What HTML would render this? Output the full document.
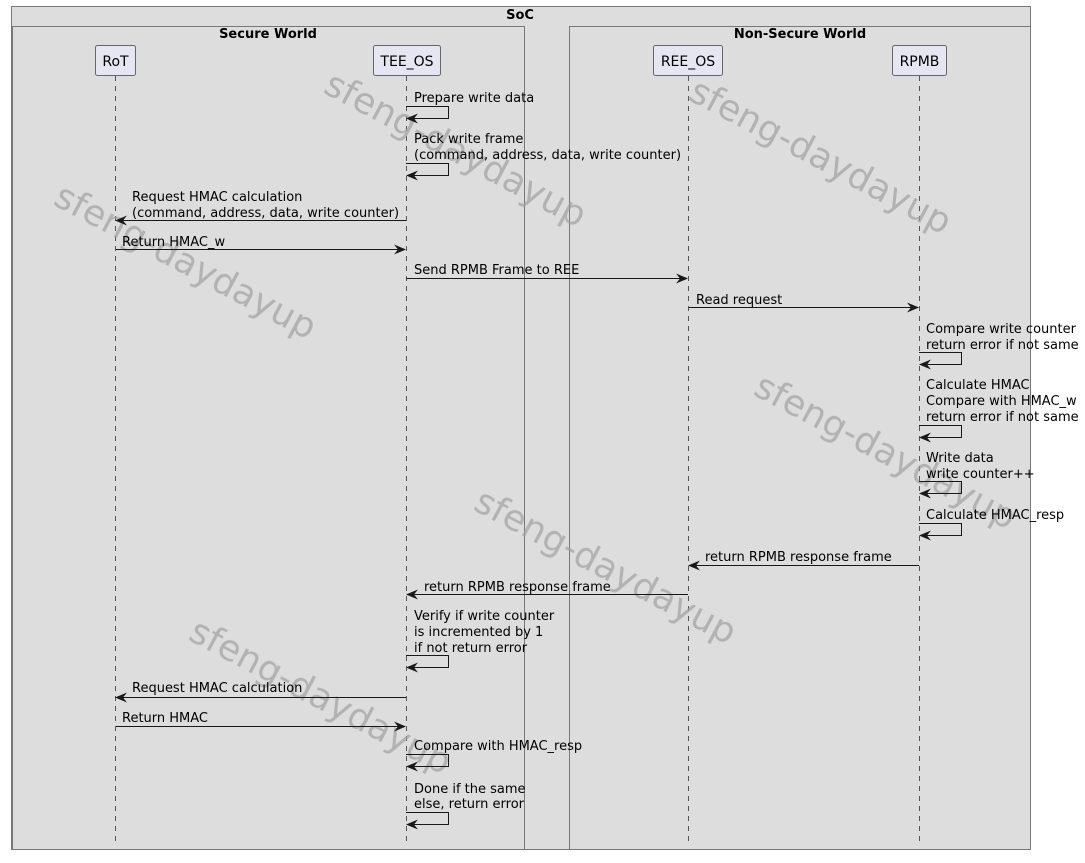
<!DOCTYPE html>
<html><head><meta charset="utf-8"><style>
html,body{margin:0;padding:0;background:#fff;width:1085px;height:863px;overflow:hidden}
svg text{font-family:"DejaVu Sans","Liberation Sans",sans-serif}
.m{font-size:13px;fill:#000}
.w{font-size:36px;fill:#a0a0a0;opacity:.7}
</style></head><body>
<svg width="1085" height="863" xmlns="http://www.w3.org/2000/svg">
<defs>
<marker id="a" viewBox="0 0 12 10" refX="11" refY="5" markerWidth="12" markerHeight="10" markerUnits="userSpaceOnUse" orient="auto">
<path d="M0,0 L12,5 L0,10 L4,5 Z" fill="#181818"/></marker>
</defs>
<rect x="11.5" y="6.5" width="1019" height="843" fill="#dddddd" stroke="#777"/>
<text x="520" y="19" text-anchor="middle" font-size="13" font-weight="bold">SoC</text>
<rect x="12.5" y="26.5" width="512" height="823" fill="#dddddd" stroke="#777"/>
<text x="268" y="38" text-anchor="middle" font-size="13" font-weight="bold">Secure World</text>
<rect x="569.5" y="26.5" width="461" height="823" fill="#dddddd" stroke="#777"/>
<text x="800" y="38" text-anchor="middle" font-size="13" font-weight="bold">Non-Secure World</text>

<g stroke="#555" stroke-dasharray="5,5">
<line x1="115.5" y1="76" x2="115.5" y2="842"/>
<line x1="406.5" y1="76" x2="406.5" y2="842"/>
<line x1="688.5" y1="76" x2="688.5" y2="842"/>
<line x1="919.5" y1="76" x2="919.5" y2="842"/>
</g>
<g fill="#e6e6f2" stroke="#666">
<rect x="95.5" y="45.5" width="40" height="30" rx="2"/>
<rect x="373.5" y="45.5" width="67" height="30" rx="2"/>
<rect x="653.5" y="45.5" width="69" height="30" rx="2"/>
<rect x="892.5" y="45.5" width="54" height="30" rx="2"/>
</g>
<g font-size="14" text-anchor="middle">
<text x="115.5" y="66">RoT</text>
<text x="407" y="66">TEE_OS</text>
<text x="688" y="66">REE_OS</text>
<text x="919.5" y="66">RPMB</text>
</g>

<g class="w" text-anchor="middle">
<text transform="translate(450,160) rotate(28)">sfeng-daydayup</text>
<text transform="translate(180,272) rotate(28)">sfeng-daydayup</text>
<text transform="translate(815,167) rotate(28)">sfeng-daydayup</text>
<text transform="translate(880,462) rotate(28)">sfeng-daydayup</text>
<text transform="translate(600,577) rotate(28)">sfeng-daydayup</text>
<text transform="translate(315,707) rotate(28)">sfeng-daydayup</text>
</g>

<g stroke="#181818" fill="none" marker-end="url(#a)">
<path d="M406,106.5 H448.5 V118.5 H407"/>
<path d="M406,163.5 H448.5 V175.5 H407"/>
<line x1="406" y1="220.5" x2="116" y2="220.5"/>
<line x1="116" y1="249.5" x2="405" y2="249.5"/>
<line x1="406" y1="278.5" x2="687" y2="278.5"/>
<line x1="689" y1="307.5" x2="918" y2="307.5"/>
<path d="M919,352.5 H961.5 V364.5 H920"/>
<path d="M919,425.5 H961.5 V437.5 H920"/>
<path d="M919,481.5 H961.5 V493.5 H920"/>
<path d="M919,523.5 H961.5 V535.5 H920"/>
<line x1="919" y1="565.5" x2="689" y2="565.5"/>
<line x1="688" y1="594.5" x2="407" y2="594.5"/>
<path d="M406,655.5 H448.5 V667.5 H407"/>
<line x1="406" y1="697.5" x2="116" y2="697.5"/>
<line x1="116" y1="726.5" x2="405" y2="726.5"/>
<path d="M406,754.5 H448.5 V766.5 H407"/>
<path d="M406,812.5 H448.5 V824.5 H407"/>
</g>

<g class="m">
<text x="414" y="102">Prepare write data</text>
<text x="414" y="143">Pack write frame</text>
<text x="414" y="159">(command, address, data, write counter)</text>
<text x="132" y="201">Request HMAC calculation</text>
<text x="132" y="217">(command, address, data, write counter)</text>
<text x="122" y="246">Return HMAC_w</text>
<text x="414" y="274">Send RPMB Frame to REE</text>
<text x="696" y="304">Read request</text>
<text x="926" y="333">Compare write counter</text>
<text x="926" y="349">return error if not same</text>
<text x="926" y="389">Calculate HMAC</text>
<text x="926" y="405">Compare with HMAC_w</text>
<text x="926" y="421">return error if not same</text>
<text x="926" y="462">Write data</text>
<text x="926" y="478">write counter++</text>
<text x="926" y="519">Calculate HMAC_resp</text>
<text x="705" y="561">return RPMB response frame</text>
<text x="424" y="591">return RPMB response frame</text>
<text x="414" y="620">Verify if write counter</text>
<text x="414" y="636">is incremented by 1</text>
<text x="414" y="652">if not return error</text>
<text x="132" y="692">Request HMAC calculation</text>
<text x="122" y="722">Return HMAC</text>
<text x="414" y="750">Compare with HMAC_resp</text>
<text x="414" y="793">Done if the same</text>
<text x="414" y="808">else, return error</text>
</g>
</svg>
</body></html>
